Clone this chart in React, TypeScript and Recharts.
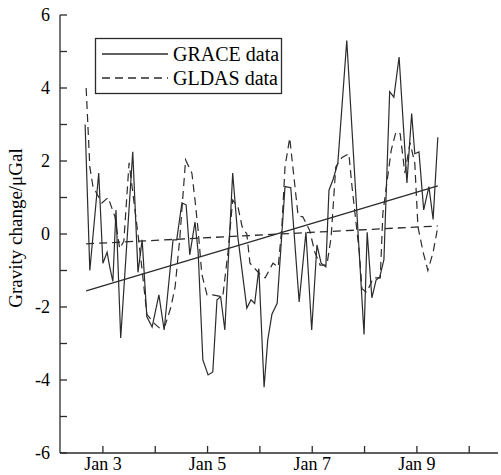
import React from 'react';
import { ComposedChart, Line, XAxis, YAxis } from 'recharts';

// time in decimal years, values in µGal
const graceTimes = [
  2002.66, 2002.75, 2002.92, 2003.0, 2003.08, 2003.13, 2003.19, 2003.25, 2003.34, 2003.57,
  2003.67, 2003.75, 2003.84, 2003.94, 2004.07, 2004.17, 2004.34, 2004.41, 2004.51, 2004.59,
  2004.66, 2004.76, 2004.82, 2004.91, 2005.01, 2005.1, 2005.18, 2005.25, 2005.33, 2005.48,
  2005.58, 2005.75, 2005.83, 2005.9, 2005.98, 2006.08, 2006.15, 2006.23, 2006.33, 2006.48,
  2006.59, 2006.75, 2006.88, 2006.99, 2007.09, 2007.17, 2007.26, 2007.32, 2007.4, 2007.49,
  2007.66, 2007.99, 2008.05, 2008.14, 2008.22, 2008.29, 2008.37, 2008.48, 2008.56, 2008.66,
  2008.81, 2008.9, 2008.96, 2009.04, 2009.13, 2009.23, 2009.31, 2009.4,
];
const graceValues = [
  3.0, -1.0, 1.67, -0.8, -0.5, -0.9, -1.3, 0.66, -2.85, 2.25,
  -1.05, -0.16, -2.27, -2.55, -1.67, -2.63, -0.16, -0.16, 0.85, 0.8,
  -0.57, 0.33, -0.5, -3.45, -3.86, -3.78, -1.8, -1.72, -2.63, 1.67,
  -0.1, -2.03, -1.8, -1.9, -0.95, -4.2, -2.9, -2.2, -1.9, 1.3,
  1.27, -1.86, 0.05, -2.63, -0.3, -0.8, -0.9, 1.2, 1.5, 1.95,
  5.3, -2.75, 0.05, -1.75, -1.26, -1.18, -0.7, 3.9, 3.75, 4.85,
  1.4, 3.3, 2.2, 2.25, 0.66, 1.3, 0.4, 2.65,
];

const gldasTimes = [
  2002.68, 2002.75, 2002.81, 2002.98, 2003.1, 2003.23, 2003.32, 2003.4, 2003.5, 2003.67,
  2003.75, 2003.84, 2003.98, 2004.1, 2004.19, 2004.3, 2004.38, 2004.47, 2004.58, 2004.7,
  2004.76, 2004.82, 2004.89, 2004.99, 2005.1, 2005.29, 2005.39, 2005.48, 2005.58, 2005.66,
  2005.75, 2005.81, 2006.0, 2006.1, 2006.25, 2006.35, 2006.42, 2006.48, 2006.57, 2006.67,
  2006.73, 2006.82, 2006.95, 2007.05, 2007.15, 2007.28, 2007.36, 2007.45, 2007.57, 2007.7,
  2007.76, 2007.9, 2007.95, 2008.04, 2008.17, 2008.3, 2008.35, 2008.51, 2008.6, 2008.68,
  2008.77, 2008.87, 2008.96, 2009.02, 2009.12, 2009.21, 2009.31, 2009.4,
];
const gldasValues = [
  4.0, 1.84, 1.3, 0.85, 1.0, 0.47, -0.4, -0.2, 1.95, 0.0,
  -1.0, -2.2, -2.45, -2.6, -2.5, -2.0, -1.45, -0.1, 2.03, 1.67,
  0.93, 0.1, -1.1, -1.67, -1.67, -1.72, -0.5, 0.93, 0.75, 0.2,
  0.0, -0.8, -1.1, -1.2, -0.8, -0.9, 0.2, 1.84, 2.63, 1.3,
  0.5, 0.47, 0.1, -0.5, -0.85, -0.85, -0.1, 1.84, 2.1, 2.2,
  1.3, -0.5, -1.5, -1.6, -1.2, -1.2, 0.57, 2.3, 2.8, 2.75,
  1.67, 2.5, 1.94, 0.2, -0.5, -1.0, -0.5, 0.2,
];

const trendTimes = [2002.68, 2009.4];
const graceTrend = [-1.56, 1.32];
const gldasTrend = [-0.27, 0.22];

const xTicks = [2003, 2004, 2005, 2006, 2007, 2008, 2009, 2010];
const xTickLabels = ['Jan 3', '', 'Jan 5', '', 'Jan 7', '', 'Jan 9', ''];
const yTicks = [-6, -5, -4, -3, -2, -1, 0, 1, 2, 3, 4, 5, 6];
const yTickLabels = ['-6', '', '-4', '', '-2', '', '0', '', '2', '', '4', '', '6'];
const seriesNames = ['GRACE data', 'GLDAS data'];
const yTitle = 'Gravity change/\u03bcGal';

const toPoints = (ts: number[], vs: number[]) => ts.map((t, i) => ({ t, v: vs[i] }));

const grace = toPoints(graceTimes, graceValues);
const gldas = toPoints(gldasTimes, gldasValues);
const graceFit = toPoints(trendTimes, graceTrend);
const gldasFit = toPoints(trendTimes, gldasTrend);

const ink = '#2b2b2b';
const font = 'Liberation Serif, Times New Roman, serif';
const axisStyle = { stroke: ink, strokeWidth: 1.3 };
const tickFont = { fill: '#000', fontSize: 18, fontFamily: font };
const xDomain = [2002.18, 2010.55];

export default function App() {
  return (
    <div style={{ position: 'absolute', left: 0, top: 0, width: 501, height: 475, background: '#fff' }}>
      <ComposedChart width={501} height={475} margin={{ top: 15, right: 3, bottom: 0, left: 0 }}>
        <XAxis
          xAxisId="b"
          dataKey="t"
          type="number"
          orientation="bottom"
          domain={xDomain}
          allowDataOverflow
          ticks={xTicks}
          interval={0}
          height={22}
          tickSize={-7}
          tickMargin={11}
          tickFormatter={(v: number) => xTickLabels[xTicks.indexOf(v)] ?? ''}
          tick={tickFont}
          axisLine={axisStyle}
          tickLine={axisStyle}
        />
        <XAxis
          xAxisId="t"
          dataKey="t"
          type="number"
          orientation="top"
          domain={xDomain}
          allowDataOverflow
          ticks={xTicks}
          interval={0}
          height={0}
          tickSize={-7}
          tick={false}
          axisLine={axisStyle}
          tickLine={axisStyle}
        />
        <YAxis
          yAxisId="l"
          type="number"
          domain={[-6, 6]}
          allowDataOverflow
          ticks={yTicks}
          interval={0}
          width={60}
          tickSize={-7}
          tickMargin={17}
          tickFormatter={(v: number) => yTickLabels[yTicks.indexOf(v)] ?? ''}
          tick={tickFont}
          axisLine={axisStyle}
          tickLine={axisStyle}
        />
        <YAxis
          yAxisId="r"
          type="number"
          orientation="right"
          domain={[-6, 6]}
          allowDataOverflow
          ticks={yTicks}
          interval={0}
          width={0}
          tickSize={-7}
          tick={false}
          axisLine={axisStyle}
          tickLine={axisStyle}
        />
        <Line xAxisId="b" yAxisId="l" data={gldasFit} dataKey="v" type="linear" stroke={ink} strokeWidth={1.3} strokeDasharray="8 5" dot={false} isAnimationActive={false} />
        <Line xAxisId="b" yAxisId="l" data={graceFit} dataKey="v" type="linear" stroke={ink} strokeWidth={1.3} dot={false} isAnimationActive={false} />
        <Line xAxisId="b" yAxisId="l" data={gldas} dataKey="v" type="linear" stroke={ink} strokeWidth={1.2} strokeDasharray="8 5" dot={false} isAnimationActive={false} />
        <Line xAxisId="b" yAxisId="l" data={grace} dataKey="v" type="linear" stroke={ink} strokeWidth={1.2} dot={false} isAnimationActive={false} />
      </ComposedChart>
      <svg width={501} height={475} style={{ position: 'absolute', left: 0, top: 0, pointerEvents: 'none' }}>
        <text
          x={22}
          y={228}
          transform="rotate(-90 22 228)"
          textAnchor="middle"
          fontFamily={font}
          fontSize={19}
          fill="#000"
        >
          {yTitle}
        </text>
        <rect x={95.5} y={38.5} width={186} height={55} fill="#fff" stroke={ink} strokeWidth={1.3} />
        <line x1={102} x2={168} y1={54} y2={54} stroke={ink} strokeWidth={1.3} />
        <text x={173} y={61} fontFamily={font} fontSize={20} fill="#000">{seriesNames[0]}</text>
        <line x1={102} x2={168} y1={78} y2={78} stroke={ink} strokeWidth={1.3} strokeDasharray="8 5" />
        <text x={173} y={85} fontFamily={font} fontSize={20} fill="#000">{seriesNames[1]}</text>
      </svg>
    </div>
  );
}
